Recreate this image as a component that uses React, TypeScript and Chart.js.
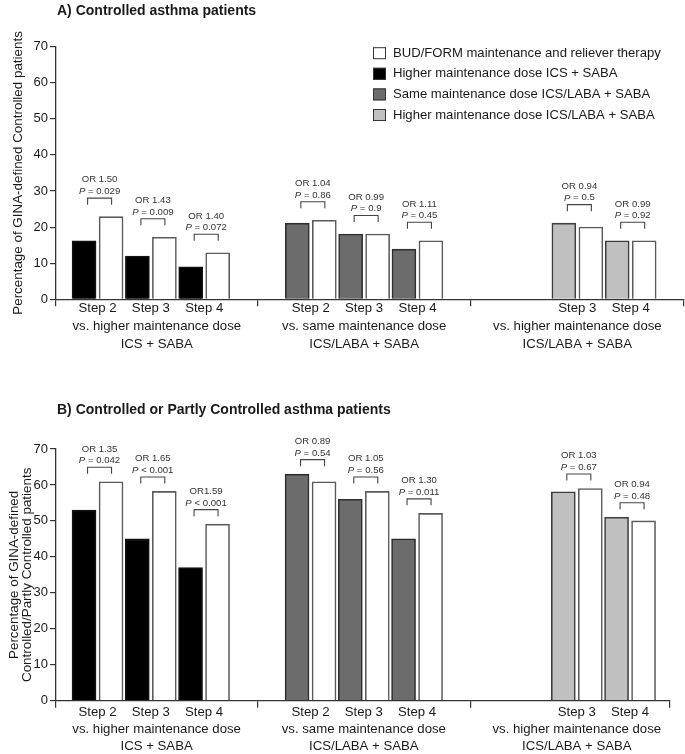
import React, { useEffect, useRef } from "react";
import { Chart, registerables } from "chart.js";

Chart.register(...registerables);

const FONT = "'Liberation Sans', Arial, Helvetica, sans-serif";

// ---------------- data ----------------
const seriesNames = [
  "Higher maintenance dose ICS + SABA",
  "Same maintenance dose ICS/LABA + SABA",
  "Higher maintenance dose ICS/LABA + SABA",
  "BUD/FORM maintenance and reliever therapy",
];
const seriesColors = ["#000000", "#6c6c6c", "#c0c0c0", "#ffffff"];
const seriesBorders = ["#111111", "#2e2e2e", "#3c3c3c", "#5a5a5a"];
const legendOrder = [3, 0, 1, 2];

const groupLines = [
  ["vs. higher maintenance dose", "ICS + SABA"],
  ["vs. same maintenance dose", "ICS/LABA + SABA"],
  ["vs. higher maintenance dose", "ICS/LABA + SABA"],
];
const groupSteps = [[2, 3, 4], [2, 3, 4], [3, 4]];

// Panel A: Controlled
const aComparator = [[16.2, 12.0, 9.0], [21.1, 18.1, 13.9], [21.1, 16.2]];
const aBudForm = [[22.9, 17.2, 12.9], [21.9, 18.1, 16.2], [20.0, 16.2]];
const aOR = [["OR 1.50", "OR 1.43", "OR 1.40"], ["OR 1.04", "OR 0.99", "OR 1.11"], ["OR 0.94", "OR 0.99"]];
const aP = [["= 0.029", "= 0.009", "= 0.072"], ["= 0.86", "= 0.9", "= 0.45"], ["= 0.5", "= 0.92"]];

// Panel B: Controlled or Partly Controlled
const bComparator = [[53.0, 45.0, 37.0], [63.0, 56.0, 45.0], [58.1, 51.0]];
const bBudForm = [[60.9, 58.2, 49.1], [60.9, 58.2, 52.1], [59.0, 50.0]];
const bOR = [["OR 1.35", "OR 1.65", "OR1.59"], ["OR 0.89", "OR 1.05", "OR 1.30"], ["OR 1.03", "OR 0.94"]];
const bP = [["= 0.042", "< 0.001", "< 0.001"], ["= 0.54", "= 0.56", "= 0.011"], ["= 0.67", "= 0.48"]];

const yMin = 0;
const yMax = 70;
const yStep = 10;

// ---------------- helpers ----------------
const slotOf = (g: number, step: number) => g * 4 + (step - 2);
const X_MIN = -0.78;

type Panel = {
  top: number;
  height: number;
  padTop: number;
  padRight: number;
  xMax: number;
  xHeight: number;
  lineHeight: number;
  labelPad: number;
  bracketGap: number;
  comparator: number[][];
  budForm: number[][];
  or: string[][];
  p: string[][];
  yTitle: string | string[];
  yTitleLH: number;
  yTitlePad: number;
  legend: boolean;
};

const panels: Panel[] = [
  {
    top: 0, height: 378, padTop: 46.6, padRight: 1, xMax: 11, xHeight: 78.7,
    lineHeight: 18, labelPad: -6.6, bracketGap: 12,
    comparator: aComparator, budForm: aBudForm, or: aOR, p: aP,
    yTitle: "Percentage of GINA-defined Controlled patients", yTitleLH: 1.2, yTitlePad: 10,
    legend: true,
  },
  {
    top: 378, height: 376, padTop: 71, padRight: 15, xMax: 10.75, xHeight: 53.3,
    lineHeight: 16.8, labelPad: -3.4, bracketGap: 8,
    comparator: bComparator, budForm: bBudForm, or: bOR, p: bP,
    yTitle: ["Percentage of GINA-defined", "Controlled/Partly Controlled patients"], yTitleLH: 1.0, yTitlePad: 7.5,
    legend: false,
  },
];

type TickDef = { value: number; label: string | string[]; sep: boolean };

function buildTickDefs(xMin: number, xMax: number): TickDef[] {
  const defs: TickDef[] = [{ value: xMin, label: "", sep: true }];
  groupSteps.forEach((steps, g) => {
    steps.forEach((s) => defs.push({ value: slotOf(g, s), label: `Step ${s}`, sep: false }));
    const lo = Math.max(g * 4 - 1, xMin);
    const hi = g * 4 + 3;
    defs.push({ value: (lo + hi) / 2, label: ["", ...groupLines[g]], sep: false });
    defs.push({ value: Math.min(hi, xMax), label: "", sep: true });
  });
  return defs.sort((a, b) => a.value - b.value);
}

function makeConfig(panel: Panel): any {
  const tickDefs = buildTickDefs(X_MIN, panel.xMax);

  const datasets: any[] = [0, 1, 2].map((g) => ({
    label: seriesNames[g],
    data: panel.comparator[g].map((v, k) => ({ x: slotOf(g, groupSteps[g][k]), y: v })),
    backgroundColor: seriesColors[g],
    borderColor: seriesBorders[g],
    borderWidth: 1.6,
    stack: "comparator",
    barThickness: 27,
    maxBarThickness: 24,
  }));
  datasets.push({
    label: seriesNames[3],
    data: groupSteps.flatMap((steps, g) =>
      steps.map((s, k) => ({ x: slotOf(g, s), y: panel.budForm[g][k] }))
    ),
    backgroundColor: seriesColors[3],
    borderColor: seriesBorders[3],
    borderWidth: 1.6,
    stack: "budform",
    barThickness: 27,
    maxBarThickness: 24,
  });

  const annotationPlugin = {
    id: "orAnnotations",
    afterDatasetsDraw(chart: any) {
      const { ctx } = chart;
      const x = chart.scales.x;
      const y = chart.scales.y;
      ctx.save();
      groupSteps.forEach((steps, g) =>
        steps.forEach((s, k) => {
          const cx = x.getPixelForValue(slotOf(g, s)) + 2;
          const topBar = Math.min(
            y.getPixelForValue(panel.comparator[g][k]),
            y.getPixelForValue(panel.budForm[g][k])
          );
          const yb = topBar - panel.bracketGap;
          const yt = yb - 6.5;
          ctx.strokeStyle = "#444";
          ctx.lineWidth = 1.1;
          ctx.beginPath();
          ctx.moveTo(cx - 12, yb);
          ctx.lineTo(cx - 12, yt);
          ctx.lineTo(cx + 12, yt);
          ctx.lineTo(cx + 12, yb);
          ctx.stroke();

          ctx.fillStyle = "#333";
          ctx.textBaseline = "middle";
          ctx.textAlign = "center";
          ctx.font = `9.6px ${FONT}`;
          ctx.fillText(panel.or[g][k], cx, yt - 18.3);

          const pf = `italic 9.6px ${FONT}`;
          const rf = `9.6px ${FONT}`;
          ctx.font = pf;
          const wp = ctx.measureText("P").width;
          const rest = " " + panel.p[g][k];
          ctx.font = rf;
          const wr = ctx.measureText(rest).width;
          const start = cx - (wp + wr) / 2;
          ctx.textAlign = "left";
          ctx.font = pf;
          ctx.fillText("P", start, yt - 6.8);
          ctx.font = rf;
          ctx.fillText(rest, start + wp, yt - 6.8);
        })
      );
      ctx.restore();
    },
  };

  const legendPlugin = {
    id: "insideLegend",
    afterDraw(chart: any) {
      if (!panel.legend) return;
      const { ctx, chartArea } = chart;
      const lx = chartArea.left + 317;
      ctx.save();
      legendOrder.forEach((di, row) => {
        const ds = chart.data.datasets[di];
        const cy = chartArea.top + 6.6 + row * 20.6;
        ctx.fillStyle = ds.backgroundColor;
        ctx.fillRect(lx, cy - 6, 13, 12);
        ctx.strokeStyle = "#333";
        ctx.lineWidth = 1;
        ctx.strokeRect(lx + 0.5, cy - 5.5, 12, 11);
        ctx.fillStyle = "#1a1a1a";
        ctx.font = `13.1px ${FONT}`;
        ctx.textAlign = "left";
        ctx.textBaseline = "middle";
        ctx.fillText(ds.label, lx + 20, cy);
      });
      ctx.restore();
    },
  };

  return {
    type: "bar",
    data: { datasets },
    plugins: [annotationPlugin, legendPlugin],
    options: {
      animation: false,
      responsive: false,
      maintainAspectRatio: false,
      layout: { padding: { top: panel.padTop, right: panel.padRight, bottom: 0, left: 0 } },
      plugins: {
        legend: { display: false },
        tooltip: { enabled: false },
        title: { display: false },
      },
      scales: {
        x: {
          type: "linear",
          min: X_MIN,
          max: panel.xMax,
          offset: false,
          stacked: true,
          afterBuildTicks(scale: any) {
            scale.ticks = tickDefs.map((t) => ({ value: t.value }));
          },
          afterFit(scale: any) {
            scale.height = panel.xHeight;
          },
          ticks: {
            autoSkip: false,
            maxRotation: 0,
            minRotation: 0,
            padding: panel.labelPad,
            color: "#1a1a1a",
            font: { size: 13.2, family: FONT, lineHeight: `${panel.lineHeight}px` },
            callback: (_v: any, i: number) => tickDefs[i].label,
          },
          grid: {
            display: true,
            offset: false,
            drawOnChartArea: false,
            drawTicks: true,
            tickLength: 7,
            lineWidth: 1.2,
            color: (ctx: any) => (tickDefs[ctx.index] && tickDefs[ctx.index].sep ? "#333" : "rgba(0,0,0,0)"),
          },
          border: { display: true, color: "#333", width: 1.3 },
        },
        y: {
          type: "linear",
          min: yMin,
          max: yMax,
          stacked: false,
          afterFit(scale: any) {
            scale.width = 56;
          },
          ticks: {
            stepSize: yStep,
            padding: 2,
            color: "#1a1a1a",
            font: { size: 13, family: FONT },
          },
          grid: {
            display: true,
            drawOnChartArea: false,
            drawTicks: true,
            tickLength: 6,
            lineWidth: 1.2,
            color: "#333",
          },
          border: { display: true, color: "#333", width: 1.3 },
          title: {
            display: true,
            text: panel.yTitle,
            color: "#1a1a1a",
            font: { size: 13.4, family: FONT, lineHeight: panel.yTitleLH },
            padding: { top: panel.yTitlePad, bottom: 0 },
          },
        },
      },
    },
  };
}

function PanelChart({ panel }: { panel: Panel }) {
  const ref = useRef<HTMLCanvasElement>(null);
  useEffect(() => {
    if (!ref.current) return;
    const chart = new Chart(ref.current, makeConfig(panel));
    return () => chart.destroy();
  }, [panel]);
  return (
    <canvas
      ref={ref}
      width={685}
      height={panel.height}
      style={{ position: "absolute", left: 0, top: panel.top, width: 685, height: panel.height }}
    />
  );
}

const titleStyle: React.CSSProperties = {
  position: "absolute",
  left: 57,
  fontFamily: FONT,
  fontWeight: "bold",
  fontSize: 14,
  lineHeight: "20px",
  color: "#1a1a1a",
  whiteSpace: "nowrap",
  zIndex: 2,
};

export default function App() {
  return (
    <div style={{ position: "absolute", left: 0, top: 0, width: 685, height: 754, background: "#fff", overflow: "hidden" }}>
      <PanelChart panel={panels[0]} />
      <PanelChart panel={panels[1]} />
      <div style={{ ...titleStyle, top: 0 }}>A) Controlled asthma patients</div>
      <div style={{ ...titleStyle, top: 399 }}>B) Controlled or Partly Controlled asthma patients</div>
    </div>
  );
}
